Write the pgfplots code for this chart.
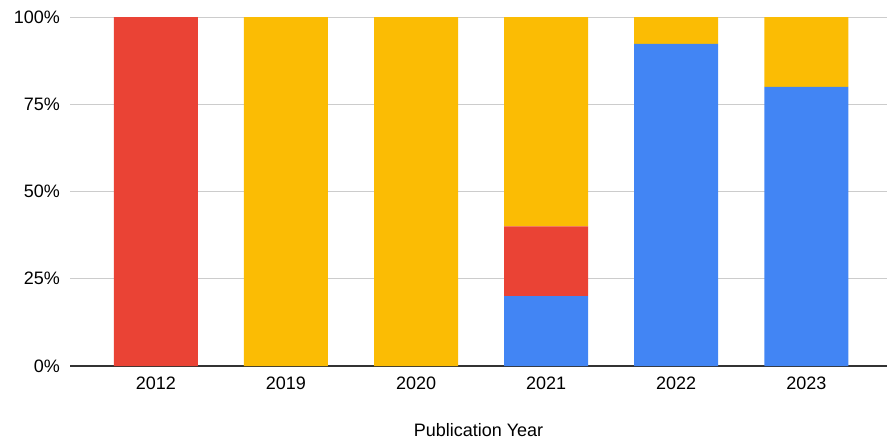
\documentclass[border=0pt]{standalone}
\usepackage{fontspec}
\setmainfont{Liberation Sans}
\usepackage{pgfplots}
\pgfplotsset{compat=1.18}

\definecolor{gblue}{HTML}{4285F4}
\definecolor{gred}{HTML}{EA4335}
\definecolor{gyellow}{HTML}{FBBC04}
\definecolor{gridgray}{HTML}{CCCCCC}
\definecolor{axisgray}{HTML}{333333}

\begin{document}
\begin{tikzpicture}
\useasboundingbox (0,0) rectangle (887pt,440pt);
\begin{axis}[
  at={(70pt,74pt)}, anchor=south west,
  scale only axis, width=817pt, height=349pt,
  ybar stacked, bar width=84pt,
  xmin=-0.66, xmax=5.62, ymin=0, ymax=100,
  xtick={0,...,5},
  xticklabels={2012,2019,2020,2021,2022,2023},
  ytick={0,25,50,75,100},
  yticklabels={0\%,25\%,50\%,75\%,100\%},
  ymajorgrids,
  grid style={color=gridgray, line width=0.9pt},
  axis x line*=bottom, axis y line*=left,
  x axis line style={color=axisgray, line width=1.1pt, -},
  y axis line style={draw=none},
  tick style={draw=none},
  font=\fontsize{18}{21}\selectfont,
  xticklabel style={anchor=base, yshift=-23pt, inner sep=0pt},
  yticklabel style={anchor=east, xshift=-10pt, inner sep=0pt},
  xlabel={Publication Year},
  xlabel style={at={(axis description cs:0.5,0)}, anchor=base, inner sep=0pt, yshift=-70pt},
  every axis plot/.append style={draw=none},
]
% bottom segment
\addplot[fill=gblue] coordinates {(0,0) (1,0) (2,0) (3,20) (4,92.3) (5,80)};
% middle segment
\addplot[fill=gred] coordinates {(0,100) (1,0) (2,0) (3,20) (4,0) (5,0)};
% top segment
\addplot[fill=gyellow] coordinates {(0,0) (1,100) (2,100) (3,60) (4,7.7) (5,20)};
\end{axis}
\end{tikzpicture}
\end{document}
